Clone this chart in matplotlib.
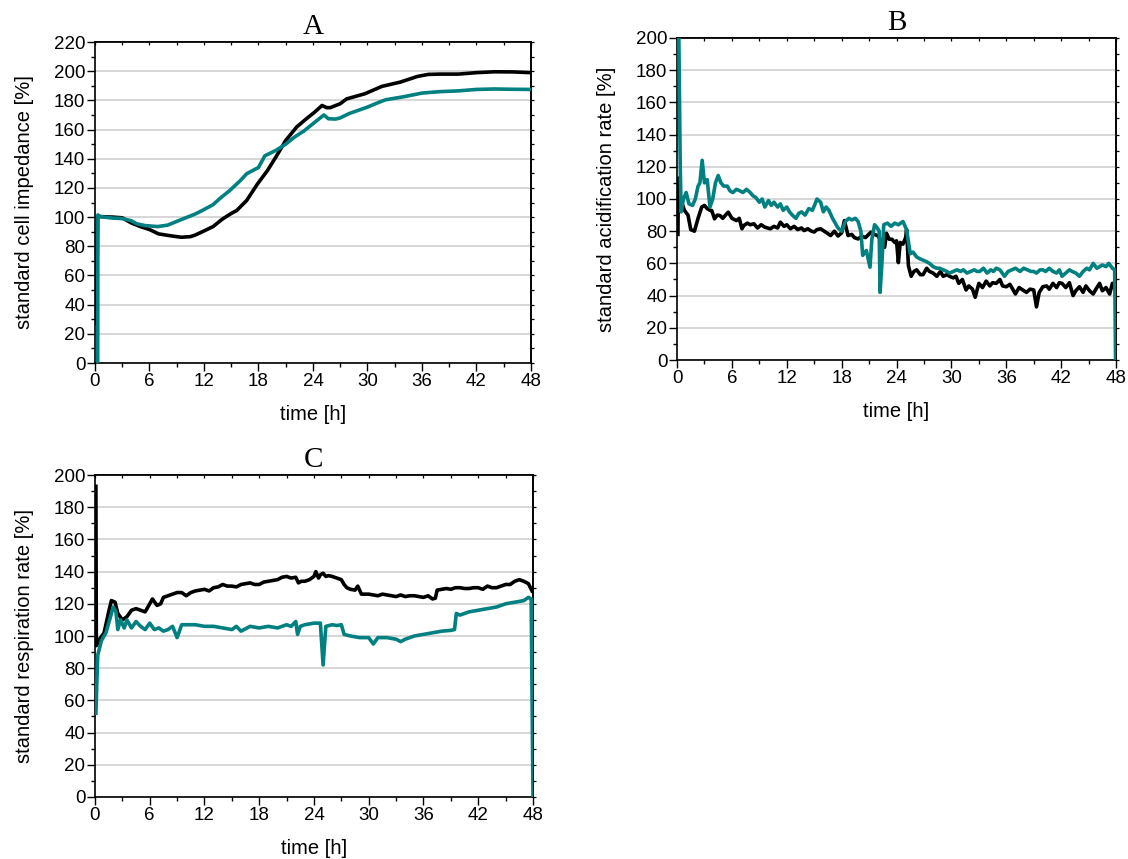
import matplotlib
matplotlib.use("Agg")
import matplotlib.pyplot as plt
from matplotlib.ticker import MultipleLocator, NullFormatter

# ---------------- data ----------------
# Panel A: standard cell impedance [%]
a_black_t = [0.15, 0.3, 0.5, 1, 2, 3, 4, 5, 6, 7, 8, 9, 9.5, 10.5, 11, 12, 13, 14,
             15, 15.6, 16.7, 17.9, 19, 19.9, 21, 22.2, 23.2, 24.2, 25.0, 25.5, 25.9,
             27, 27.7, 29.7, 31.6, 33.6, 35.5, 36.7, 38, 40, 42, 44, 46, 48]
a_black_v = [27, 100.5, 100.4, 100.2, 100, 99.5, 96, 93.5, 91.5, 88.5, 87.5, 86.6, 86.2, 86.6,
             87.6, 90.5, 93.5, 98.5, 102.5, 104.5, 111.4, 122.8, 132, 141, 152.5, 161.7,
             167, 172, 176.5, 175, 175, 177.7, 181, 184.5, 189.6, 192.5, 196.4, 197.8,
             198, 198, 199, 199.6, 199.5, 199]
a_teal_t = [0.3, 0.32, 0.5, 1, 2, 3, 4, 4.6, 5.5, 6.9, 8, 9.7, 11, 11.8, 13, 13.8, 14.8,
            16, 16.7, 18, 18.7, 20, 21, 22, 23, 24, 25.2, 25.7, 26.5, 27, 28, 30, 31,
            32, 34, 36, 38, 40, 42, 44, 46, 48]
a_teal_v = [0, 101.5, 100.5, 100, 99.3, 99, 97.5, 95.4, 94.2, 93.5, 94.5, 98.8, 102, 104.5,
            108.5, 113, 118, 125, 129.7, 134, 142, 146, 150, 155, 159, 164, 170, 167.4,
            167.2, 168, 171, 175.4, 178, 180.4, 182.5, 185, 186, 186.5, 187.5, 187.8,
            187.6, 187.5]

# Panel B: standard acidification rate [%]
b_black_t = [0.1, 0.15, 0.4, 0.8, 1.2, 1.5, 1.9, 2.3, 2.7, 3.0, 3.3, 3.6, 3.8, 4.1, 4.4,
             4.7, 5.0, 5.3, 5.6, 6.0, 6.5, 6.8, 7.1, 7.3, 7.7, 8.0, 8.4, 8.8, 9.2, 9.6,
             10.2, 10.6, 11.0, 11.3, 11.7, 12.0, 12.4, 12.8, 13.2, 13.6, 13.9, 14.3,
             14.7, 15.0, 15.3, 15.7, 16.1, 16.5, 16.8, 17.2, 17.6, 18.0, 18.3, 18.7,
             19.1, 19.4, 19.8, 20.2, 20.6, 21.2, 21.6, 22.0, 22.3, 22.7, 22.9, 23.2,
             23.5, 23.8, 24.0, 24.2, 24.4, 24.7, 25.0, 25.1, 25.3, 25.6, 25.9, 26.2,
             26.6, 26.9, 27.3, 27.6, 28.0, 28.4, 28.8, 29.1, 29.5, 29.8, 30.2, 30.5,
             30.8, 31.2, 31.6, 31.9, 32.3, 32.6, 33.0, 33.4, 33.8, 34.2, 34.5, 34.9,
             35.3, 35.6, 36.0, 36.4, 36.7, 37.0, 37.4, 37.8, 38.2, 38.6, 39.0, 39.3,
             39.6, 40.0, 40.4, 40.7, 41.1, 41.5, 41.8, 42.1, 42.5, 42.9, 43.3, 43.6,
             44.0, 44.4, 44.7, 45.1, 45.5, 45.8, 46.2, 46.5, 46.9, 47.3, 47.6, 47.9]
b_black_v = [78, 113, 100, 93, 90, 81, 80, 88, 95, 96, 94, 93, 92.8, 87.7, 90, 89.7, 88, 90,
             91.8, 88, 86.6, 88, 81.5, 83.5, 85, 84, 84.6, 82, 84, 82.5,
             81.5, 83, 82, 85.6, 83, 84, 81.5, 83, 81, 82, 80.4, 81.5,
             80, 79.5, 81, 81.5, 80, 78.5, 77.3, 80, 77, 79, 86.6, 77.3,
             78, 76, 75.2, 77, 76, 79.4, 78, 77, 74, 70, 78.7, 75,
             75, 73, 74, 60.5, 73, 72, 76, 81, 58.5, 52, 55, 56,
             53, 53, 57, 55, 54, 52, 55, 52, 53, 52, 51, 52,
             47.6, 50, 43.5, 46, 44, 39, 47.6, 45, 49, 46, 48, 47.6,
             50, 46, 45.5, 47, 44, 41, 45, 43.5, 42, 44, 43.5, 33,
             42, 45.5, 46, 44, 47.6, 45, 48, 47.6, 45, 48, 40, 43,
             45.5, 42, 46, 43, 41, 44, 47.6, 43, 45, 41, 47.6, 44]
b_teal_t = [0.1, 0.2, 0.35, 0.45, 0.7, 1.0, 1.3, 1.7, 2.0, 2.3, 2.5, 2.75, 3.0, 3.3, 3.6,
            3.9, 4.2, 4.5, 4.8, 5.1, 5.5, 5.8, 6.1, 6.5, 6.9, 7.2, 7.6, 8.0, 8.3, 8.6,
            9.0, 9.3, 9.6, 10.0, 10.3, 10.6, 11.0, 11.3, 11.6, 12.0, 12.3, 12.6, 13.0,
            13.3, 13.6, 14.0, 14.4, 14.8, 15.1, 15.3, 15.7, 16.0, 16.3, 16.6, 17.0,
            17.3, 17.6, 18.0, 18.4, 18.8, 19.1, 19.5, 19.8, 20.1, 20.3, 20.7, 21.1,
            21.3, 21.6, 21.9, 22.1, 22.2, 22.4, 22.6, 23.0, 23.4, 23.8, 24.2, 24.7,
            25.1, 25.5, 25.8, 26.2, 26.5, 26.9, 27.3, 27.6, 28.0, 28.4, 28.7, 29.1,
            29.5, 29.8, 30.2, 30.6, 31.0, 31.3, 31.7, 32.1, 32.5, 32.8, 33.1, 33.5,
            33.9, 34.3, 34.6, 34.9, 35.3, 35.8, 36.2, 36.6, 37.0, 37.5, 37.9, 38.3,
            38.7, 39.0, 39.3, 39.7, 40.0, 40.3, 40.7, 41.1, 41.5, 41.8, 42.1, 42.5,
            42.9, 43.2, 43.6, 44.0, 44.4, 44.8, 45.1, 45.5, 45.9, 46.2, 46.5, 46.9,
            47.2, 47.6, 47.85, 47.95]
b_teal_v = [200, 200, 120, 92, 100, 104, 97, 96, 100, 108, 110, 124, 110, 112, 95,
            100, 110, 114.6, 110, 108, 108, 105, 104, 106, 105, 104, 106, 104, 102, 101,
            98, 100, 95, 99, 96, 98, 95, 97, 93, 95, 92, 90, 88,
            91, 92, 90, 94, 93, 97, 100, 98, 92, 95, 93, 88,
            85, 82, 80, 86, 88, 87, 88, 86, 80, 65, 68, 57.6,
            75, 84, 82, 80, 42, 60, 84, 85, 83, 85, 84, 86,
            81, 66, 67, 64, 63, 62, 61, 60, 58, 57, 57, 56,
            55, 54, 55, 56, 55, 56, 54, 55, 56, 55, 55, 57,
            54, 56, 55, 57, 56, 52, 55, 56, 57, 55, 57, 56,
            55, 55, 54, 56, 56, 55, 57, 55, 54, 56, 52, 54,
            56, 55, 54, 52, 55, 57, 56, 60, 57, 58, 59, 58,
            60, 57, 56, 0]

# Panel C: standard respiration rate [%]
c_black_t = [0.1, 0.15, 0.5, 1.0, 1.5, 1.8, 2.2, 2.5, 3.0, 3.5, 4.0, 4.5, 5.0, 5.5, 6.0,
             6.3, 6.8, 7.2, 7.5, 8.0, 8.5, 9.0, 9.5, 10.0, 10.5, 11.0, 11.5, 12.0, 12.5,
             13.0, 13.5, 14.0, 14.5, 15.0, 15.5, 16.0, 16.5, 17.0, 17.5, 18.0, 18.5,
             19.0, 19.5, 20.0, 20.5, 21.0, 21.5, 22.0, 22.3, 22.6, 23.0, 23.5, 24.0,
             24.2, 24.5, 24.7, 25.0, 25.3, 25.6, 26.0, 26.5, 27.0, 27.3, 27.6, 28.0,
             28.5, 28.8, 29.2, 30.0, 30.5, 31.0, 31.5, 32.0, 32.5, 33.0, 33.5, 34.0,
             34.5, 35.0, 35.5, 36.0, 36.5, 37.0, 37.3, 37.5, 38.0, 38.5, 39.0, 39.5,
             40.0, 40.5, 41.0, 41.5, 42.0, 42.5, 43.0, 43.5, 44.0, 44.5, 45.0, 45.5,
             46.0, 46.5, 47.0, 47.5, 47.9]
c_black_v = [193, 94, 98, 102, 115, 122, 121, 114, 110, 112, 116, 117, 116, 115, 120,
             123, 119, 120, 124, 125, 126, 127, 127, 125, 127, 128, 128.5, 129, 128,
             130, 130.5, 132, 131, 131, 130.5, 132, 132.5, 133, 132, 132, 133.5,
             134, 134.5, 135, 136.5, 137, 136, 136.5, 133, 134, 134, 135, 137,
             140, 136, 138, 139, 137, 137.5, 137, 136, 135, 132, 130, 129,
             128.5, 131, 126, 126, 125.5, 125, 126, 125.5, 125, 124.5, 125.5, 124.5,
             125, 125, 124.5, 124, 125, 123, 123.5, 128.5, 129, 129.5, 129, 130,
             130, 129.5, 129.5, 130, 130, 129, 131, 130, 130, 131, 132, 132,
             134, 135, 134, 132.5, 128]
c_teal_t = [0.1, 0.3, 0.7, 1.2, 1.6, 2.0, 2.3, 2.5, 2.8, 3.2, 3.5, 4.0, 4.5, 5.0, 5.5,
            6.0, 6.5, 7.0, 7.5, 8.0, 8.5, 9.0, 9.5, 10.0, 11.0, 12.0, 13.0, 14.0, 15.0,
            15.5, 16.0, 17.0, 18.0, 19.0, 20.0, 21.0, 21.5, 22.0, 22.2, 22.5, 23.0,
            24.0, 24.7, 25.0, 25.3, 26.0, 26.5, 27.0, 27.3, 28.0, 29.0, 30.0, 30.5,
            31.0, 32.0, 33.0, 33.5, 34.0, 35.0, 36.0, 37.0, 38.0, 39.0, 39.4, 39.6,
            40.0, 41.0, 42.0, 43.0, 44.0, 45.0, 46.0, 47.0, 47.5, 47.8, 48.0]
c_teal_v = [52, 88, 97, 102, 110, 118, 115, 104, 110, 105, 110, 105, 109, 106, 104,
            108, 104, 105, 103, 104, 106, 99, 107, 107, 107, 106, 106, 105, 104,
            106, 103, 106, 105, 106, 105, 107, 106, 109, 101, 106, 107,
            108, 108, 82, 106, 107, 106.5, 107, 101, 100, 99, 99, 95,
            99, 99, 98, 96.5, 98, 100, 101, 102, 103, 103.5, 104, 114,
            113, 115, 116, 117, 118, 120, 121, 122, 124, 123, 0]

x_ticks = [0, 6, 12, 18, 24, 30, 36, 42, 48]

# ---------------- style ----------------
TEAL = "#008080"
SANS = ["Liberation Sans", "DejaVu Sans"]
SERIF = ["Liberation Serif", "DejaVu Serif"]
plt.rcParams["font.family"] = SANS

fig = plt.figure(figsize=(11.28, 8.59), dpi=100)

def style_axis(ax, ymax, ylabel, title):
    ax.set_xlim(0, 48)
    ax.set_ylim(0, ymax)
    ax.set_xticks(x_ticks)
    ax.xaxis.set_minor_locator(MultipleLocator(3))
    ax.yaxis.set_major_locator(MultipleLocator(20))
    ax.yaxis.set_minor_locator(MultipleLocator(10))
    ax.tick_params(which="both", direction="out", labelsize=13.5, width=1.0,
                   colors="black", pad=1.5)
    ax.tick_params(which="major", length=5.5)
    ax.tick_params(which="minor", length=3)
    ax.grid(axis="y", which="major", color="#cccccc", linewidth=1.1)
    ax.set_axisbelow(True)
    for s in ax.spines.values():
        s.set_linewidth(1.2)
        s.set_color("black")
    # top: short inward ticks, right: short outward ticks
    top = ax.secondary_xaxis("top")
    top.set_xticks(x_ticks)
    top.xaxis.set_minor_locator(MultipleLocator(3))
    top.xaxis.set_major_formatter(NullFormatter())
    top.tick_params(which="both", direction="in", length=2.5, width=0.9)
    top.spines["top"].set_linewidth(1.2)
    right = ax.secondary_yaxis("right")
    right.yaxis.set_major_locator(MultipleLocator(20))
    right.yaxis.set_minor_locator(MultipleLocator(10))
    right.yaxis.set_major_formatter(NullFormatter())
    right.tick_params(which="both", direction="out", length=2.5, width=0.9)
    right.spines["right"].set_linewidth(1.2)
    ax.set_xlabel("time [h]", fontsize=14.5, labelpad=11)
    ax.set_ylabel(ylabel, fontsize=14.5, labelpad=14)
    ax.set_title(title, fontsize=21, family=SERIF, pad=6)

axA = fig.add_axes([0.0842, 0.5774, 0.3865, 0.3737])
axB = fig.add_axes([0.6002, 0.5809, 0.3892, 0.3749])
axC = fig.add_axes([0.0842, 0.0722, 0.3883, 0.3748])

lw = 2.6
axA.plot(a_black_t, a_black_v, color="black", lw=lw, zorder=3)
axA.plot(a_teal_t, a_teal_v, color=TEAL, lw=lw, zorder=4)
style_axis(axA, 220, "standard cell impedance [%]", "A")

axB.plot(b_black_t, b_black_v, color="black", lw=lw, zorder=3)
axB.plot(b_teal_t, b_teal_v, color=TEAL, lw=lw, zorder=4)
style_axis(axB, 200, "standard acidification rate [%]", "B")

axC.plot(c_black_t, c_black_v, color="black", lw=lw, zorder=3)
axC.plot(c_teal_t, c_teal_v, color=TEAL, lw=lw, zorder=4)
style_axis(axC, 200, "standard respiration rate [%]", "C")

fig.savefig("out.png", dpi=100)
